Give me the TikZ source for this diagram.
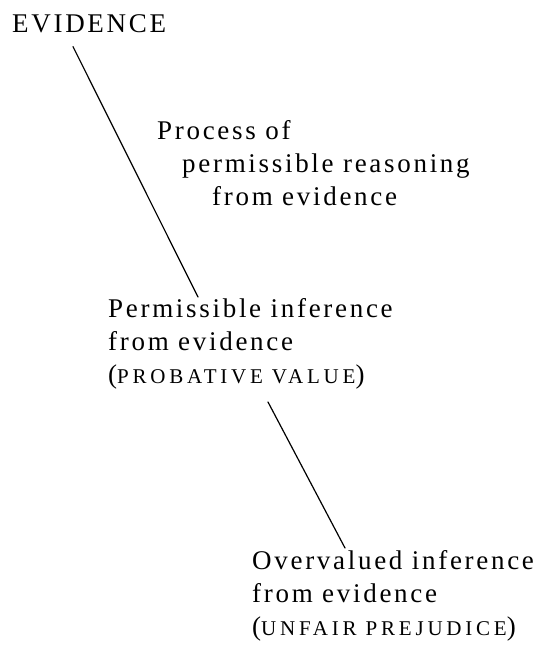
\documentclass[tikz,border=0pt]{standalone}
\usepackage{fontspec}
\setmainfont[LetterSpace=10]{Liberation Serif}
\newcommand{\lowcaps}[1]{{\fontsize{21}{33}\selectfont\addfontfeature{LetterSpace=18}#1}}
\begin{document}
\begin{tikzpicture}[x=1pt,y=-1pt,line join=round,line cap=round,
    every node/.style={inner sep=0pt,anchor=base west,align=left,
      font=\fontsize{27}{33}\selectfont}]
  \useasboundingbox (0,0) rectangle (544,646);
  % labels (base = last line)
  \node (evidence) at (12,32) {EVIDENCE};
  \node (process) at (157,205) {Process of\\
    \hspace*{25pt}permissible reasoning\\
    \hspace*{55pt}from evidence};
  \node (probative) at (108,383) {Permissible inference\\
    from evidence\\
    (\lowcaps{PROBATIVE VALUE})};
  \node (prejudice) at (252,635) {Overvalued inference\\
    from evidence\\
    (\lowcaps{UNFAIR PREJUDICE})};
  % connectors
  \draw[line width=1.2pt] ([shift={(61,14)}]evidence.south west)
    -- ([shift={(90,-86)}]probative.base west);
  \draw[line width=1.2pt] ([shift={(160,19)}]probative.base west)
    -- ([shift={(93,-87)}]prejudice.base west);
\end{tikzpicture}
\end{document}
